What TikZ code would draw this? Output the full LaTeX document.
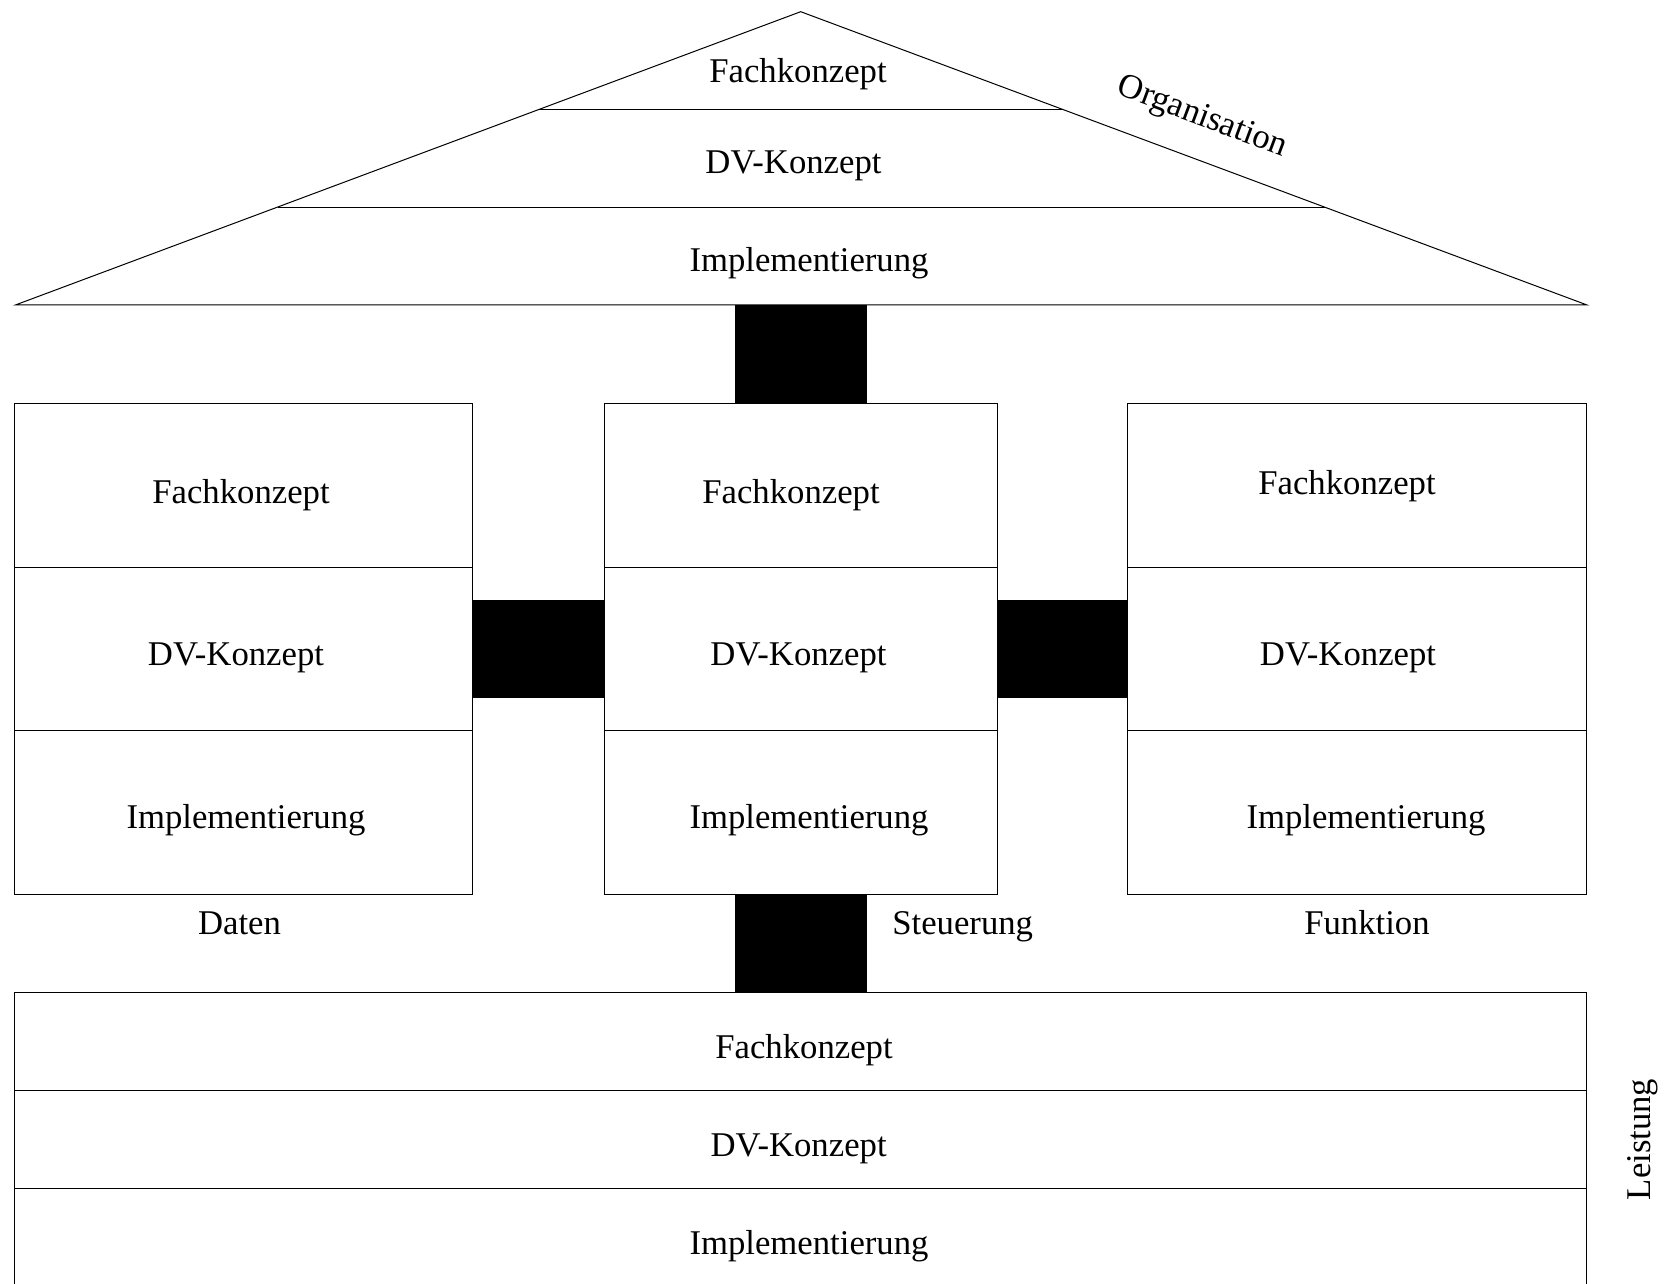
\documentclass[tikz,border=0pt]{standalone}
\usepackage{fontspec}
\setmainfont{Liberation Serif}
\usetikzlibrary{calc}
\begin{document}
\begin{tikzpicture}[x=1pt,y=-1pt,
  every node/.style={inner sep=0pt, outer sep=0pt},
  frame/.style={draw, line width=1pt},
  cell/.style={frame, anchor=north west},
  lbl/.style={anchor=base, font=\fontsize{34.7}{40}\selectfont},
  link/.style={fill=black, draw=none, anchor=north west}]
\useasboundingbox (0,0) rectangle (1665,1284);

% roof: organisation view
\coordinate (apex) at (800.7,11.7);
\coordinate (eaveL) at (15.9,304.8);
\coordinate (eaveR) at (1586.5,304.8);
\draw[frame] (eaveL) -- (apex) -- (eaveR) -- cycle;
\draw[frame] ($(apex)!1/3!(eaveL)$) -- ($(apex)!1/3!(eaveR)$);
\draw[frame] ($(apex)!2/3!(eaveL)$) -- ($(apex)!2/3!(eaveR)$);
\node[lbl] (oF) at (798,82.7) {Fachkonzept};
\node[lbl] (oD) at (793.5,173.3) {DV-Konzept};
\node[lbl] (oI) at (809,271.7) {Implementierung};
\node[lbl, anchor=center, rotate=-20.5] (org) at (1202,118) {Organisation};

% three columns: data, control, function
\foreach \nm/\x/\w in {d/14.9/457.6, s/604.2/392.9, f/1127.7/458.8}{
  \node[cell, minimum width=\w pt, minimum height=163.5pt] (\nm F) at (\x,403.5) {};
  \node[cell, minimum width=\w pt, minimum height=163.6pt] (\nm D) at (\x,567) {};
  \node[cell, minimum width=\w pt, minimum height=163.5pt] (\nm I) at (\x,730.6) {};
}
\node[lbl] (dFt) at (241,503) {Fachkonzept};
\node[lbl] (dDt) at (236,665.5) {DV-Konzept};
\node[lbl] (dIt) at (246,828.5) {Implementierung};
\node[lbl] (sFt) at (791,503) {Fachkonzept};
\node[lbl] (sDt) at (798.5,665.5) {DV-Konzept};
\node[lbl] (sIt) at (809,828.5) {Implementierung};
\node[lbl] (fFt) at (1347,494.5) {Fachkonzept};
\node[lbl] (fDt) at (1348,665.5) {DV-Konzept};
\node[lbl] (fIt) at (1366,828.5) {Implementierung};
\node[lbl] (daten) at (239.5,934) {Daten};
\node[lbl] (steuer) at (962.7,934) {Steuerung};
\node[lbl] (funk) at (1367,934) {Funktion};

% base: output view
\node[cell, minimum width=1571.6pt, minimum height=97.7pt] (lF) at (14.9,992.9) {};
\node[cell, minimum width=1571.6pt, minimum height=97.7pt] (lD) at (14.9,1090.6) {};
\node[cell, minimum width=1571.6pt, minimum height=97.7pt] (lI) at (14.9,1188.3) {};
\node[lbl] (lFt) at (804,1058) {Fachkonzept};
\node[lbl] (lDt) at (798.6,1156) {DV-Konzept};
\node[lbl] (lIt) at (809,1254) {Implementierung};
\node[lbl, rotate=90] (leist) at (1650,1139.4) {Leistung};

% black joints between the views
\node[link, minimum width=131.7pt, minimum height=98.7pt] (jTop) at (734.8,304.8) {};
\node[link, minimum width=131.7pt, minimum height=97.7pt] (jLeft) at (472.5,600) {};
\node[link, minimum width=130.6pt, minimum height=97.7pt] (jRight) at (997.1,600) {};
\node[link, minimum width=131.7pt, minimum height=98.8pt] (jBot) at (734.8,894.1) {};
\end{tikzpicture}
\end{document}
